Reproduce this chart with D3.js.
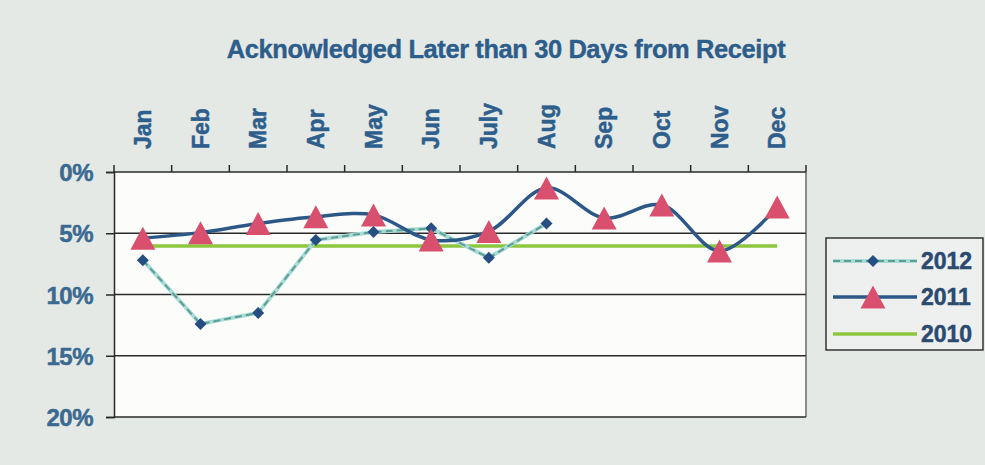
<!DOCTYPE html>
<html><head><meta charset="utf-8">
<script src="https://cdn.jsdelivr.net/npm/d3@7"></script>
<style>
html,body{margin:0;padding:0;background:#e5e9e6;}
svg{display:block;}
text{font-family:"Liberation Sans",Arial,sans-serif;font-weight:bold;}
</style></head>
<body>
<svg id="c" width="985" height="465"></svg>
<script>
const title = "Acknowledged Later than 30 Days from Receipt";
const months = ["Jan","Feb","Mar","Apr","May","Jun","July","Aug","Sep","Oct","Nov","Dec"];
const yTicks = [0,5,10,15,20];
const seriesNames = ["2012","2011","2010"];
const values2012 = [7.2,12.4,11.5,5.55,4.9,4.6,7.0,4.2];
const values2011 = [5.4,4.95,4.2,3.65,3.5,5.55,4.85,1.3,3.75,2.7,6.45,2.85];
const values2010 = [6.05,6.05,6.05,6.05,6.05,6.05,6.05,6.05,6.05,6.05,6.05,6.05];

const svg = d3.select("#c");
const L=114, R=806, T=172, B=417;

svg.append("rect").attr("width",985).attr("height",465).attr("fill","#e5e9e6");

const x = d3.scaleBand().domain(months).range([L,R]);
const y = d3.scaleLinear().domain([0,20]).range([T,B]);
const cx = m => x(m)+x.bandwidth()/2;

// plot area
svg.append("rect").attr("x",L).attr("y",T).attr("width",R-L).attr("height",B-T).attr("fill","#fcfcfb");

// gridlines
svg.append("g").selectAll("line").data(yTicks).join("line")
  .attr("x1",L).attr("x2",R).attr("y1",d=>y(d)).attr("y2",d=>y(d))
  .attr("stroke","#2a2a2a").attr("stroke-width",1.5);
svg.append("line").attr("x1",R).attr("x2",R).attr("y1",T).attr("y2",B).attr("stroke","#444").attr("stroke-width",1.2);

// left axis
const ya = svg.append("g").attr("transform",`translate(${L},0)`)
  .call(d3.axisLeft(y).tickValues(yTicks).tickSize(8).tickPadding(13).tickFormat(d=>d+"%"));
ya.select(".domain").attr("stroke","#2a2a2a").attr("stroke-width",1.5);
ya.selectAll(".tick line").attr("stroke","#2a2a2a").attr("stroke-width",1.5);
ya.selectAll("text").attr("fill","#3a6a91").attr("font-size",24).attr("dy","0.36em")
  .attr("font-family","'Liberation Sans',Arial,sans-serif").attr("font-weight","bold")
  .attr("letter-spacing",-0.5).attr("stroke","#3a6a91").attr("stroke-width",0.5);

// top axis ticks at band edges
const edges = months.map(m=>x(m)).concat([R]);
svg.append("g").selectAll("line").data(edges).join("line")
  .attr("x1",d=>d).attr("x2",d=>d).attr("y1",T-7).attr("y2",T)
  .attr("stroke","#2a2a2a").attr("stroke-width",1.5);

// month labels
svg.append("g").selectAll("text").data(months).join("text")
  .attr("transform",d=>`translate(${cx(d)+8},149) rotate(-90)`)
  .attr("text-anchor","start").attr("font-size",23).attr("fill","#2e5e8c")
  .attr("stroke","#2e5e8c").attr("stroke-width",0.5)
  .text(d=>d);

// title
const tt = svg.append("text").attr("x",506).attr("y",58).attr("text-anchor","middle")
  .attr("fill","#2d5d8b").attr("stroke","#2d5d8b").attr("stroke-width",0.4)
  .attr("font-size",20).attr("letter-spacing",-0.4).text(title);
const tw = tt.node().getComputedTextLength();
tt.attr("font-size",20*554/tw);

// 2010
const line = d3.line().x((d,i)=>cx(months[i])).y(d=>y(d));
svg.append("path").datum(values2010).attr("d",line).attr("fill","none")
  .attr("stroke","#8dc63f").attr("stroke-width",3.5);

// 2012
svg.append("path").datum(values2012).attr("d",line).attr("fill","none")
  .attr("stroke","#a9dcd9").attr("stroke-width",4);
svg.append("path").datum(values2012).attr("d",line).attr("fill","none")
  .attr("stroke","#5f9f92").attr("stroke-width",2).attr("stroke-dasharray","7,4");

// 2011 smoothed
const sline = d3.line().x((d,i)=>cx(months[i])).y(d=>y(d)).curve(d3.curveCatmullRom.alpha(0.5));
svg.append("path").datum(values2011).attr("d",sline).attr("fill","none")
  .attr("stroke","#2c5887").attr("stroke-width",3.5);

// diamonds
const diamond = s => `M0,${-s}L${s},0L0,${s}L${-s},0Z`;
svg.append("g").selectAll("path").data(values2012).join("path")
  .attr("transform",(d,i)=>`translate(${cx(months[i])},${y(d)})`)
  .attr("d",diamond(6)).attr("fill","#254e82");

// triangles
const tri = (w,h) => `M0,${-h/2}L${w/2},${h/2}L${-w/2},${h/2}Z`;
svg.append("g").selectAll("path").data(values2011).join("path")
  .attr("transform",(d,i)=>`translate(${cx(months[i])},${y(d)})`)
  .attr("d",tri(25,23)).attr("fill","#d9506f");

// legend
const lg = svg.append("g");
lg.append("rect").attr("x",826).attr("y",238).attr("width",157).attr("height",112)
  .attr("fill","#eef0ef").attr("stroke","#333").attr("stroke-width",1.5);
const ly = [261,297,334];
// 2012
lg.append("line").attr("x1",833).attr("x2",917).attr("y1",ly[0]).attr("y2",ly[0])
  .attr("stroke","#a9dcd9").attr("stroke-width",4);
lg.append("line").attr("x1",833).attr("x2",917).attr("y1",ly[0]).attr("y2",ly[0])
  .attr("stroke","#5f9f92").attr("stroke-width",2).attr("stroke-dasharray","7,4");
lg.append("path").attr("transform",`translate(873,${ly[0]})`).attr("d",diamond(6)).attr("fill","#254e82");
// 2011
lg.append("line").attr("x1",833).attr("x2",917).attr("y1",ly[1]).attr("y2",ly[1])
  .attr("stroke","#2c5887").attr("stroke-width",3.5);
lg.append("path").attr("transform",`translate(873,${ly[1]})`).attr("d",tri(25,23)).attr("fill","#d9506f");
// 2010
lg.append("line").attr("x1",833).attr("x2",917).attr("y1",ly[2]).attr("y2",ly[2])
  .attr("stroke","#8dc63f").attr("stroke-width",3.5);
lg.selectAll("text.lt").data(seriesNames).join("text").attr("class","lt")
  .attr("x",921).attr("y",(d,i)=>ly[i]+8).attr("font-size",23).attr("fill","#2a4a70")
  .attr("stroke","#2a4a70").attr("stroke-width",0.5).text(d=>d);
</script>
</body></html>
